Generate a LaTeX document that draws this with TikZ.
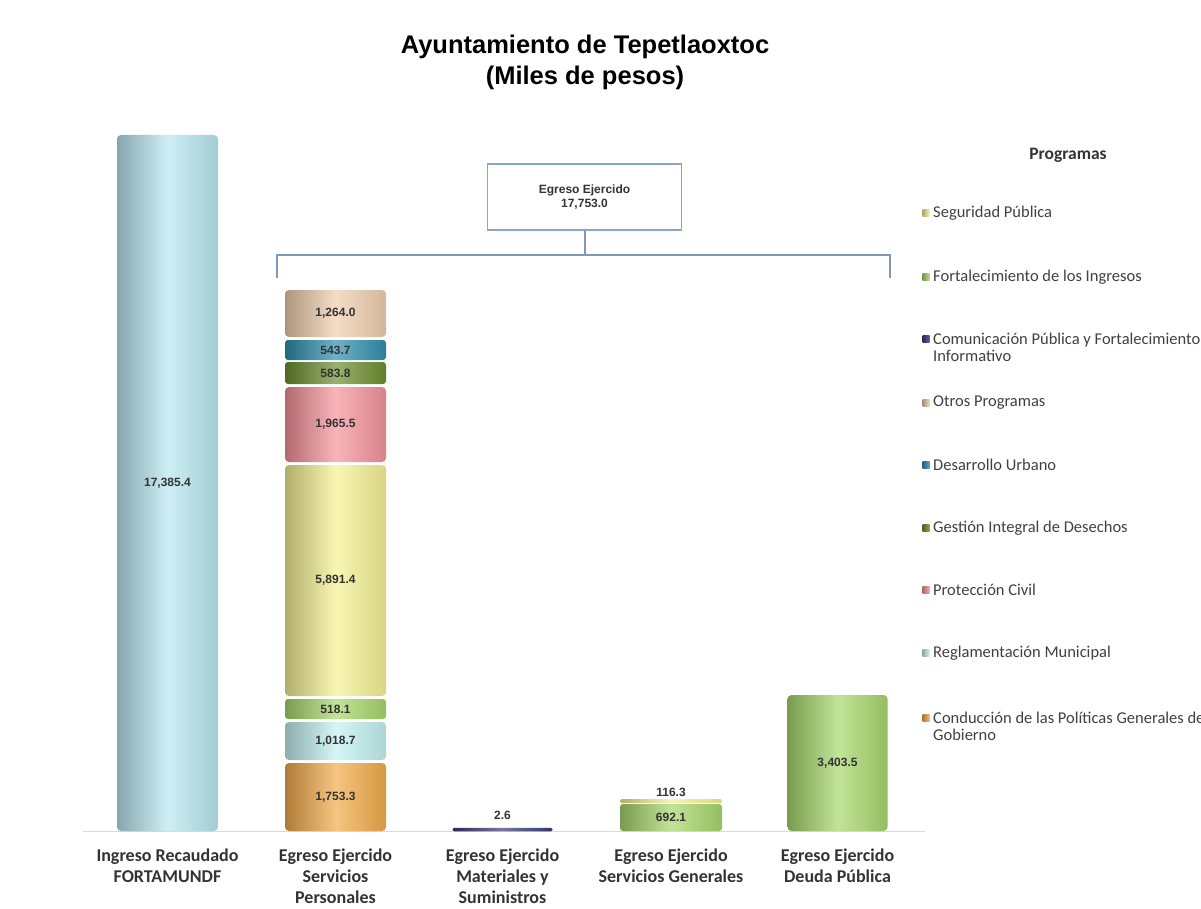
\documentclass[tikz,border=0pt]{standalone}
\usepackage{fontspec}
\setmainfont{Liberation Sans}
\newfontfamily\calfont{Carlito}
\usetikzlibrary{calc}
\definecolor{cIng}{HTML}{B8E8F0}
\definecolor{cOtros}{HTML}{F0CFAE}
\definecolor{cDes}{HTML}{3090B0}
\definecolor{cGes}{HTML}{6E9030}
\definecolor{cPro}{HTML}{F6949C}
\definecolor{cSeg}{HTML}{F6F294}
\definecolor{cFor}{HTML}{A8D86C}
\definecolor{cReg}{HTML}{C4F2F2}
\definecolor{cCon}{HTML}{F2AC4A}
\definecolor{cCom}{HTML}{3C3C78}
\definecolor{cBrk}{HTML}{8297B6}
\definecolor{cBox}{HTML}{8AA6D0}
\definecolor{cTxt}{HTML}{333333}
\begin{document}
\begin{tikzpicture}[x=1pt,y=-1pt,
  seg/.style={inner sep=0pt, rounded corners=4pt,
    left color=#1!72!black, right color=#1!88!black, middle color=#1!70!white,
    font=\fontsize{12}{14}\selectfont\bfseries, text=cTxt},
  thinseg/.style={seg=#1, rounded corners=1.5pt},
  titlef/.style={align=center, font=\fontsize{25.5}{31}\selectfont\bfseries, text=black},
  ebox/.style={draw=cBox, line width=1.4pt, fill=white, align=center,
    font=\fontsize{12}{14}\selectfont\bfseries, text=cTxt},
  brk/.style={draw=cBrk, line width=2pt},
  axisline/.style={draw=black!15, line width=1pt},
  cat/.style={anchor=north, align=center, inner sep=0pt,
    font=\calfont\fontsize{18}{21}\selectfont\bfseries, text=black!80},
  legtext/.style={anchor=west, align=left, inner sep=0pt,
    font=\calfont\fontsize{16.5}{17}\selectfont, text=black!75},
  legmark/.style={minimum width=7pt, minimum height=7pt, inner sep=0pt,
    left color=#1!70!black, right color=#1!80!white},
  vlab/.style={inner sep=0pt, font=\fontsize{12}{14}\selectfont\bfseries, text=cTxt}
]
\clip (0,0) rectangle (1201,909);
\fill[white] (0,0) rectangle (1201,909);

% title
\node[titlef] (title) at (585,62.5) {Ayuntamiento de Tepetlaoxtoc\\(Miles de pesos)};

% axis line
\coordinate (axL) at (83,831);
\coordinate (axR) at (925,831);
\draw[axisline] (axL) -- (axR);

% bar 1
\node[seg=cIng, minimum width=101pt, minimum height=696pt] (b1) at (167.5,483) {17,385.4};

% bar 2 segments
\node[seg=cOtros, minimum width=101pt, minimum height=47pt] (b2a) at (335.5,313.5) {1,264.0};
\node[seg=cDes, minimum width=101pt, minimum height=20pt, rounded corners=3pt] (b2b) at (335.5,350) {543.7};
\node[seg=cGes, minimum width=101pt, minimum height=22pt, rounded corners=3pt] (b2c) at (335.5,373) {583.8};
\node[seg=cPro, minimum width=101pt, minimum height=75pt] (b2d) at (335.5,424.5) {1,965.5};
\node[seg=cSeg, minimum width=101pt, minimum height=231pt] (b2e) at (335.5,580.5) {5,891.4};
\node[seg=cFor, minimum width=101pt, minimum height=20pt, rounded corners=3pt] (b2f) at (335.5,709) {518.1};
\node[seg=cReg, minimum width=101pt, minimum height=38pt] (b2g) at (335.5,741) {1,018.7};
\node[seg=cCon, minimum width=101pt, minimum height=68pt] (b2h) at (335.5,797) {1,753.3};

% bar 3
\node[thinseg=cCom, minimum width=100pt, minimum height=3.5pt] (b3) at (502.5,829.5) {};
\node[vlab] (l3) at (502.5,815) {2.6};

% bar 4
\node[thinseg=cSeg, minimum width=102pt, minimum height=4pt] (b4a) at (671,801) {};
\node[seg=cFor, minimum width=102pt, minimum height=27pt, rounded corners=3pt] (b4b) at (671,817.5) {692.1};
\node[vlab] (l4) at (671,792) {116.3};

% bar 5
\node[seg=cFor, minimum width=100pt, minimum height=136pt] (b5) at (837.5,763) {3,403.5};

% total box and bracket
\node[ebox, minimum width=194pt, minimum height=66pt] (eg) at (584.5,197) {Egreso Ejercido\\17,753.0};
\coordinate (bm) at (584.5,255);
\coordinate (bl) at (277,255);
\coordinate (br) at (890,255);
\coordinate (blt) at (277,278);
\coordinate (brt) at (890,278);
\draw[brk] (eg.south) -- (bm);
\draw[brk] (blt) -- (bl) -- (br) -- (brt);

% category labels
\node[cat] (c1) at (167.5,849) {Ingreso Recaudado\\FORTAMUNDF};
\node[cat] (c2) at (335.5,849) {Egreso Ejercido\\Servicios\\Personales};
\node[cat] (c3) at (502.5,849) {Egreso Ejercido\\Materiales y\\Suministros};
\node[cat] (c4) at (671,849) {Egreso Ejercido\\Servicios Generales};
\node[cat] (c5) at (837.5,849) {Egreso Ejercido\\Deuda P\'ublica};

% legend
\node[inner sep=0pt, font=\calfont\fontsize{17.5}{20}\selectfont\bfseries, text=black!80] (lgt) at (1068,155) {Programas};
\node[legmark=cSeg] (m1) at (926,213) {};
\node[legtext] (t1) at (933,213) {Seguridad Pública};
\node[legmark=cFor] (m2) at (926,277) {};
\node[legtext] (t2) at (933,277) {Fortalecimiento de los Ingresos};
\node[legmark=cCom] (m3) at (926,339) {};
\node[legtext] (t3) at (933,347.5) {Comunicación Pública y Fortalecimiento\\Informativo};
\node[legmark=cOtros] (m4) at (926,403) {};
\node[legtext] (t4) at (933,403) {Otros Programas};
\node[legmark=cDes] (m5) at (926,465) {};
\node[legtext] (t5) at (933,465) {Desarrollo Urbano};
\node[legmark=cGes] (m6) at (926,528) {};
\node[legtext] (t6) at (933,528) {Gestión Integral de Desechos};
\node[legmark=cPro] (m7) at (926,590) {};
\node[legtext] (t7) at (933,590) {Protección Civil};
\node[legmark=cReg] (m8) at (926,653) {};
\node[legtext] (t8) at (933,653) {Reglamentación Municipal};
\node[legmark=cCon] (m9) at (926,718) {};
\node[legtext] (t9) at (933,726.5) {Conducción de las Políticas Generales de\\Gobierno};
\end{tikzpicture}
\end{document}
